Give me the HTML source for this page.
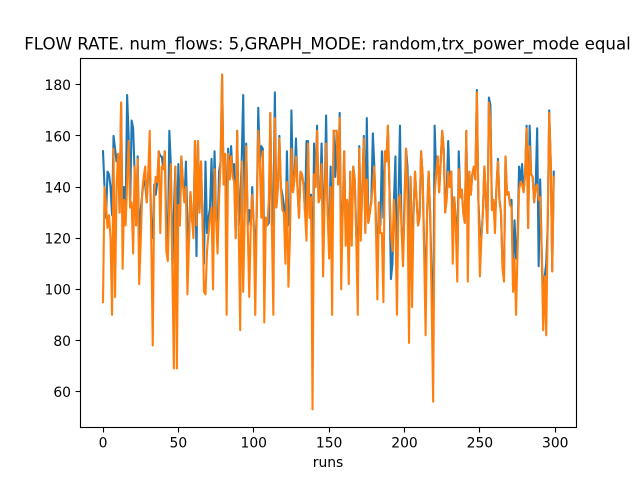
<!DOCTYPE html>
<html>
<head>
<meta charset="utf-8">
<style>
html,body{margin:0;padding:0;background:#fff;width:640px;height:480px;overflow:hidden}
svg{display:block;font-family:"DejaVu Sans","Liberation Sans",sans-serif}
</style>
</head>
<body>
<svg id="chart" width="640" height="480" viewBox="0 0 640 480" xmlns="http://www.w3.org/2000/svg">
<rect x="0" y="0" width="640" height="480" fill="#ffffff"/>
<text x="327.5" y="49.7" font-size="16.67" text-anchor="middle" fill="#000" textLength="606.5" lengthAdjust="spacingAndGlyphs">FLOW RATE. num_flows: 5,GRAPH_MODE: random,trx_power_mode equal</text>
<text x="328" y="467" font-size="13.89" text-anchor="middle" fill="#000">runs</text>
<g id="ticks"></g>
<g id="lines"></g>
<rect x="80.5" y="58.5" width="496" height="369" fill="none" stroke="#000" stroke-width="1.11"/>
</svg>
<script>
const xTicks = [0, 50, 100, 150, 200, 250, 300];
const yTicks = [60, 80, 100, 120, 140, 160, 180];
const seriesBlue = [
154,140,128,146,145,140,129,160,155,150,
153,130,173,125,140,130,176,160,132,166,
163,145,125,152,115,131,137,143,141,134,
145,150,125,120,141,137,142,154,152,152,
147,154,125,115,162,149,110,130,148,120,
149,125,152,142,134,150,125,118,138,128,
122,158,113,158,130,150,128,110,150,122,
128,132,151,125,154,128,122,146,150,184,
141,153,122,155,143,156,144,149,120,162,
125,135,150,176,130,157,125,131,125,140,
125,115,130,171,150,156,155,115,128,125,
126,169,125,130,177,132,140,160,140,137,
133,115,154,125,125,170,138,143,159,140,
128,146,145,141,130,158,158,128,137,100,
157,140,164,134,136,157,130,135,168,130,
122,148,110,162,144,162,141,169,118,130,
154,120,134,108,146,120,148,143,122,110,
156,122,140,160,123,167,126,130,135,161,
148,128,110,134,125,154,128,154,150,164,
140,104,110,135,152,105,135,164,125,112,
135,155,148,115,144,115,130,146,135,125,
128,154,145,118,100,130,146,130,105,80,
164,145,152,138,150,162,155,130,138,158,
140,146,125,136,128,108,154,136,139,130,
126,162,122,146,137,145,148,143,178,135,
122,120,130,148,135,122,175,172,131,135,
125,140,151,135,130,110,105,152,137,138,
133,135,105,127,112,120,148,142,149,138,
145,164,124,164,145,144,134,140,163,109,
143,115,94,105,110,125,170,150,107,146
];
const seriesOrange = [
95,140,133,124,129,120,90,155,97,140,
153,130,173,108,135,125,142,158,132,134,
114,148,125,151,102,118,138,144,148,134,
145,162,120,78,138,144,142,154,122,148,
147,154,115,111,135,149,108,69,148,69,
133,125,152,142,134,140,98,118,138,128,
120,158,125,158,130,150,128,99,98,115,
122,128,132,100,147,128,114,135,150,184,
141,153,90,153,143,152,144,142,120,162,
125,84,150,99,130,156,125,97,125,137,
125,90,130,162,150,128,154,87,128,125,
135,169,125,90,167,132,140,159,140,131,
130,110,142,101,120,155,138,143,152,140,
128,146,145,141,130,119,157,128,136,53,
145,140,162,134,136,149,105,135,157,130,
112,140,90,162,162,162,141,167,100,130,
154,117,135,102,146,117,148,143,120,90,
155,119,140,159,122,143,126,130,134,140,
148,125,96,134,122,122,95,154,150,164,
140,122,115,135,125,90,135,137,125,109,
130,155,135,79,144,93,130,146,135,125,
128,154,145,115,82,130,146,130,95,56,
137,145,152,138,150,162,155,130,135,146,
140,146,110,136,125,103,147,136,139,130,
126,162,103,146,137,145,148,143,177,135,
105,120,130,148,135,122,173,165,131,135,
122,140,150,135,130,108,103,152,137,138,
133,132,99,112,90,115,139,142,141,138,
145,163,124,156,145,144,134,140,141,135,
136,115,84,105,82,125,169,150,107,144
];
const seriesNames = ['series-blue-line', 'series-orange-line'];
const seriesColors = ['#1f77b4', '#ff7f0e'];
const NS = 'http://www.w3.org/2000/svg';
const X_ZERO = 103, X_UNIT = 1.5075, Y_BASE = 427.3, Y_MIN = 46, Y_UNIT = 2.556;
function xScale(v) { return X_ZERO + v * X_UNIT; }
function yScale(v) { return Y_BASE - (v - Y_MIN) * Y_UNIT; }
const ticksGroup = document.getElementById('ticks');
const linesGroup = document.getElementById('lines');
function mk(tag, parent, attrs) {
  const el = document.createElementNS(NS, tag);
  for (const k in attrs) el.setAttribute(k, attrs[k]);
  parent.appendChild(el);
  return el;
}
xTicks.forEach(function (t) {
  const x = Math.floor(xScale(t)) + 0.5;
  const mark = mk('line', ticksGroup, { x1: x, x2: x, y1: 427.5, y2: 432.5, stroke: '#000', 'stroke-width': 1.11 });
  
  
  const label = mk('text', ticksGroup, { x: xScale(t), y: 447.6, 'font-size': 13.89, 'text-anchor': 'middle', fill: '#000' });
  
  
  label.textContent = t;
});
yTicks.forEach(function (t) {
  const y = Math.floor(yScale(t)) + 0.5;
  const mark = mk('line', ticksGroup, { x1: 75.6, x2: 80.5, y1: y, y2: y, stroke: '#000', 'stroke-width': 1.11 });
  
  
  const label = mk('text', ticksGroup, { x: 71, y: yScale(t) + 5.4, 'font-size': 13.89, 'text-anchor': 'end', fill: '#000' });
  
  
  label.textContent = t;
});
[seriesBlue, seriesOrange].forEach(function (values, s) {
  const pts = values.map(function (v, i) { return xScale(i).toFixed(2) + ',' + yScale(v).toFixed(2); }).join(' ');
  const line = mk('polyline', linesGroup, { points: pts, fill: 'none', stroke: seriesColors[s], 'stroke-width': 2.08, 'stroke-linejoin': 'round', 'stroke-linecap': 'square' });
  
  
});
</script>
</body>
</html>
